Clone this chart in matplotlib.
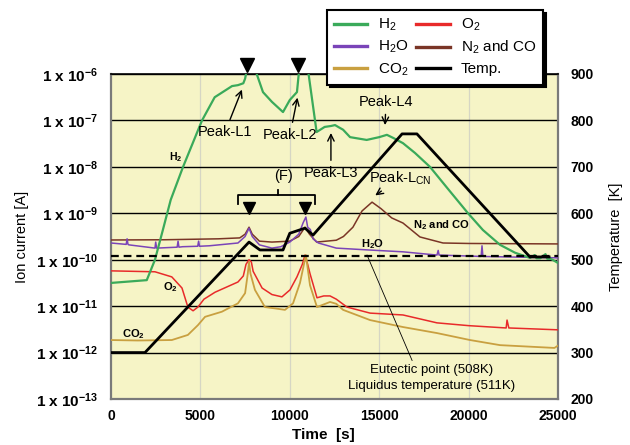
import numpy as np
import matplotlib
matplotlib.use('Agg')
import matplotlib.pyplot as plt
from matplotlib.lines import Line2D

plt.rcParams['font.family'] = ['Liberation Sans', 'DejaVu Sans']
plt.rcParams['mathtext.fontset'] = 'custom'
plt.rcParams['mathtext.rm'] = 'Liberation Sans'
plt.rcParams['mathtext.bf'] = 'Liberation Sans:bold'
plt.rcParams['mathtext.it'] = 'Liberation Sans:italic'

# ---------------- data (time in s, ion current as log10 exponent, temperature in K)
h2_t = [0, 2000, 2460, 2900, 3340, 4030, 5090, 5800, 6770, 7100, 7400, 7500, 7600, 7700,
        8050, 8150, 8500, 9000, 9620, 10000, 10400, 10500, 10600, 10950, 11050, 11500,
        11950, 12300, 12530, 12750, 12980, 13370, 14300, 15000, 15430, 15800, 16330,
        17000, 17840, 18900, 19970, 20800, 21760, 22600, 23430, 23700, 23800, 24000,
        24300, 24400, 24600, 25000]
h2_exp = [-10.50, -10.44, -10.0, -9.36, -8.71, -8.0, -7.0, -6.5, -6.26, -6.24, -6.2, -6.1,
          -5.9, -5.6, -5.6, -6.0, -6.39, -6.6, -6.82, -6.56, -6.39, -6.0, -5.6, -5.6, -6.0,
          -7.25, -7.14, -7.12, -7.1, -7.15, -7.2, -7.36, -7.42, -7.36, -7.31, -7.38, -7.49,
          -7.7, -8.0, -8.5, -9.0, -9.36, -9.68, -9.85, -9.96, -9.9, -9.97, -9.97, -9.88,
          -9.98, -9.98, -10.07]

h2o_t = [0, 850, 900, 950, 1000, 2460, 2500, 2550, 3700, 3750, 3800, 4000, 4850, 4900,
         4950, 5500, 7100, 7500, 7720, 7900, 8300, 9000, 9500, 10000, 10500, 10750, 10900,
         11000, 11150, 11300, 11600, 12600, 14400, 16330, 18230, 18300, 18350, 20700,
         20750, 20800, 25000]
h2o_exp = [-9.64, -9.67, -9.55, -9.67, -9.68, -9.75, -9.62, -9.75, -9.73, -9.60, -9.73,
           -9.72, -9.71, -9.60, -9.71, -9.70, -9.64, -9.5, -9.32, -9.5, -9.68, -9.75,
           -9.72, -9.62, -9.45, -9.2, -9.08, -9.3, -9.35, -9.55, -9.64, -9.75, -9.79,
           -9.83, -9.90, -9.80, -9.90, -9.93, -9.70, -9.93, -9.96]

n2co_t = [0, 3000, 6000, 7200, 7500, 7720, 7900, 8300, 9000, 10000, 10500, 10850, 11100,
          11500, 12600, 13000, 13530, 14040, 14600, 15100, 15700, 16330, 17280, 18570,
          20000, 25000]
n2co_exp = [-9.575, -9.57, -9.55, -9.53, -9.45, -9.30, -9.45, -9.60, -9.62, -9.60, -9.50,
            -9.30, -9.45, -9.62, -9.58, -9.50, -9.30, -8.95, -8.76, -8.90, -9.10, -9.21,
            -9.51, -9.64, -9.65, -9.66]

o2_t = [0, 2460, 3400, 3970, 4300, 4590, 4860, 5200, 5820, 7100, 7400, 7550, 7720, 7850,
        7950, 8450, 9000, 9560, 10010, 10400, 10700, 10850, 11000, 11130, 11520, 11900,
        12250, 12600, 13200, 14490, 16330, 18230, 20000, 22100, 22150, 22250, 25000]
o2_exp = [-10.24, -10.26, -10.37, -10.61, -11.02, -11.10, -11.02, -10.85, -10.70, -10.48,
          -10.35, -10.1, -10.0, -10.05, -10.25, -10.61, -10.75, -10.80, -10.65, -10.37,
          -10.1, -9.9, -10.1, -10.3, -10.82, -10.78, -10.78, -10.85, -11.02, -11.15,
          -11.19, -11.36, -11.42, -11.47, -11.30, -11.47, -11.51]

co2_t = [0, 1500, 3400, 4300, 4860, 5260, 6200, 7100, 7500, 7650, 7720, 7800, 8050, 8610,
         9200, 9730, 10180, 10570, 10900, 11130, 11520, 12250, 12600, 12980, 14490, 16330,
         18230, 20080, 21760, 24800, 25000]
co2_exp = [-11.73, -11.74, -11.73, -11.62, -11.41, -11.23, -11.12, -10.94, -10.72, -10.3,
           -10.05, -10.3, -10.65, -11.02, -11.05, -11.08, -10.94, -10.5, -9.9, -10.55,
           -11.02, -10.91, -10.95, -11.08, -11.30, -11.45, -11.58, -11.73, -11.84, -11.90,
           -11.85]

temp_t = [0, 1900, 7720, 8330, 9620, 10000, 10850, 11300, 16280, 17110, 23430, 24500]
temp_K = [300, 300, 538, 521, 521, 557, 568, 553, 771, 771, 506, 506]

eutectic_K = 508

x_ticks = [0, 5000, 10000, 15000, 20000, 25000]
y_exps = [-13, -12, -11, -10, -9, -8, -7, -6]
t_ticks = [200, 300, 400, 500, 600, 700, 800, 900]

series_names = ['H$_2$', 'H$_2$O', 'CO$_2$', 'O$_2$', 'N$_2$ and CO', 'Temp.']

# ---------------- colours
c_h2 = '#3aaa5a'
c_h2o = '#7a44b8'
c_co2 = '#c9a040'
c_o2 = '#e82a2a'
c_n2 = '#7a3526'
c_bg = '#f6f4c6'

fig = plt.figure(figsize=(6.3, 4.45), dpi=100)
ax = fig.add_axes([111 / 630, 1 - 399 / 445, 447 / 630, 325 / 445])
ax.set_facecolor(c_bg)
ax.set_yscale('log')
ax.set_xlim(0, 25000)
ax.set_ylim(1e-13, 1e-6)

# grid
for e in y_exps[1:]:
    ax.axhline(10.0 ** e, color='black', lw=1.0, zorder=1)
for t in x_ticks[1:-1]:
    ax.axvline(t, color='#d6d6c4', lw=0.9, zorder=0.5)

ax.plot(n2co_t, 10.0 ** np.array(n2co_exp), color=c_n2, lw=1.1, zorder=3)
ax.plot(h2o_t, 10.0 ** np.array(h2o_exp), color=c_h2o, lw=1.1, zorder=3)
ax.plot(o2_t, 10.0 ** np.array(o2_exp), color=c_o2, lw=1.1, zorder=3)
ax.plot(co2_t, 10.0 ** np.array(co2_exp), color=c_co2, lw=1.3, zorder=3)
ax.plot(h2_t, 10.0 ** np.array(h2_exp), color=c_h2, lw=1.6, zorder=3)

ax.set_xticks(x_ticks, [str(v) for v in x_ticks], fontweight='bold', fontsize=10)
ax.set_yticks([10.0 ** e for e in y_exps],
              ['1 x 10$^{\\mathbf{%d}}$' % e for e in y_exps], fontweight='bold', fontsize=11)
ax.minorticks_off()
ax.tick_params(axis='y', length=0, pad=9)
ax.tick_params(axis='x', length=0, pad=7)
for s in ['left', 'bottom', 'right']:
    ax.spines[s].set_color('#7a7a7a')
    ax.spines[s].set_linewidth(1.6)
ax.spines['top'].set_color('black')
ax.spines['top'].set_linewidth(1.2)

ax.set_ylabel('Ion current [A]', fontsize=10.5)
ax.yaxis.set_label_coords(-0.183, 0.5)
fig.text(323 / 630, 1 - 435 / 445, 'Time  [s]', ha='center', va='center',
         fontsize=11, fontweight='bold')

ax2 = ax.twinx()
ax2.set_ylim(200, 900)
ax2.plot(temp_t, temp_K, color='black', lw=2.0, zorder=4)
ax2.axhline(eutectic_K, color='black', lw=1.6, ls=(0, (3.5, 2.2)), zorder=4)
ax2.set_yticks(t_ticks, [str(v) for v in t_ticks], fontweight='bold', fontsize=10)
ax2.tick_params(axis='y', length=0, pad=9)
for s in ax2.spines.values():
    s.set_visible(False)
ax2.set_ylabel('Temperature  [K]', fontsize=10.5)
ax2.yaxis.set_label_coords(1.115, 0.5)

# ---------------- annotations
arr = dict(arrowstyle='->,head_length=0.45,head_width=0.22', color='black', lw=1.0)
ax.annotate('Peak-L1', xy=(7380, 10 ** -6.28), xytext=(6380, 10 ** -7.25), ha='center',
            va='center', fontsize=10.5, arrowprops=arr, zorder=6)
ax.annotate('Peak-L2', xy=(10460, 10 ** -6.45), xytext=(10010, 10 ** -7.31), ha='center',
            va='center', fontsize=10.5, arrowprops=arr, zorder=6)
ax.annotate('Peak-L3', xy=(12300, 10 ** -7.21), xytext=(12300, 10 ** -8.13), ha='center',
            va='center', fontsize=10.5, arrowprops=arr, zorder=6)
ax.annotate('Peak-L4', xy=(15320, 10 ** -7.16), xytext=(15380, 10 ** -6.60), ha='center',
            va='center', fontsize=10.5, arrowprops=arr, zorder=6)
ax.annotate('Peak-L$_{\\mathrm{CN}}$', xy=(14650, 10 ** -8.65), xytext=(16160, 10 ** -8.24),
            ha='center', va='center', fontsize=10.5, arrowprops=arr, zorder=6)

ax.text(3640, 10 ** -7.79, 'H$_\\mathbf{2}$', fontsize=7.5, fontweight='bold', ha='center', va='center')
ax.text(3300, 10 ** -10.59, 'O$_\\mathbf{2}$', fontsize=8, fontweight='bold', ha='center', va='center')
ax.text(1230, 10 ** -11.60, 'CO$_\\mathbf{2}$', fontsize=8, fontweight='bold', ha='center', va='center')
ax.text(18460, 10 ** -9.25, 'N$_\\mathbf{2}$ and CO', fontsize=8, fontweight='bold', ha='center', va='center')
ax.text(14650, 10 ** -9.66, 'H$_\\mathbf{2}$O', fontsize=8, fontweight='bold', ha='center', va='center')

ax.text(9620, 10 ** -8.2, '(F)', fontsize=10.5, ha='center', va='center')
ax.plot([7100, 7100, 11410, 11410], [10 ** -8.80, 10 ** -8.61, 10 ** -8.61, 10 ** -8.80],
        color='black', lw=1.3, zorder=6)
ax.plot([9340, 9340], [10 ** -8.61, 10 ** -8.50], color='black', lw=1.3, zorder=6)
ax.plot([7720, 10850], [10 ** -8.89, 10 ** -8.89], ls='none', marker='v', ms=9,
        color='black', zorder=6)
ax.plot([7600, 10450], [10 ** -5.80, 10 ** -5.80], ls='none', marker='v', ms=10,
        color='black', zorder=6, clip_on=False)

ax.text(17950, 10 ** -12.37, 'Eutectic point (508K)', fontsize=9.5, ha='center', va='center')
ax.text(17950, 10 ** -12.71, 'Liquidus temperature (511K)', fontsize=9.5, ha='center', va='center')
ax.plot([16840, 14320], [10 ** -12.17, 10 ** -9.90], color='black', lw=0.6, zorder=6)

# ---------------- legend
handles = [Line2D([], [], color=c, lw=2.4) for c in [c_h2, c_h2o, c_co2, c_o2, c_n2, 'black']]
leg = fig.legend(handles, series_names, ncol=2, loc='upper left',
                 bbox_to_anchor=(327 / 630, 1 - 10 / 445), frameon=True, fancybox=False,
                 edgecolor='black', framealpha=1, shadow={'color': 'black', 'alpha': 1},
                 fontsize=11, handlelength=2.2, handletextpad=0.7, columnspacing=0.5,
                 labelspacing=0.38, borderpad=0.45, borderaxespad=0)
leg.get_frame().set_linewidth(1.5)

fig.savefig('out.png', dpi=100)
